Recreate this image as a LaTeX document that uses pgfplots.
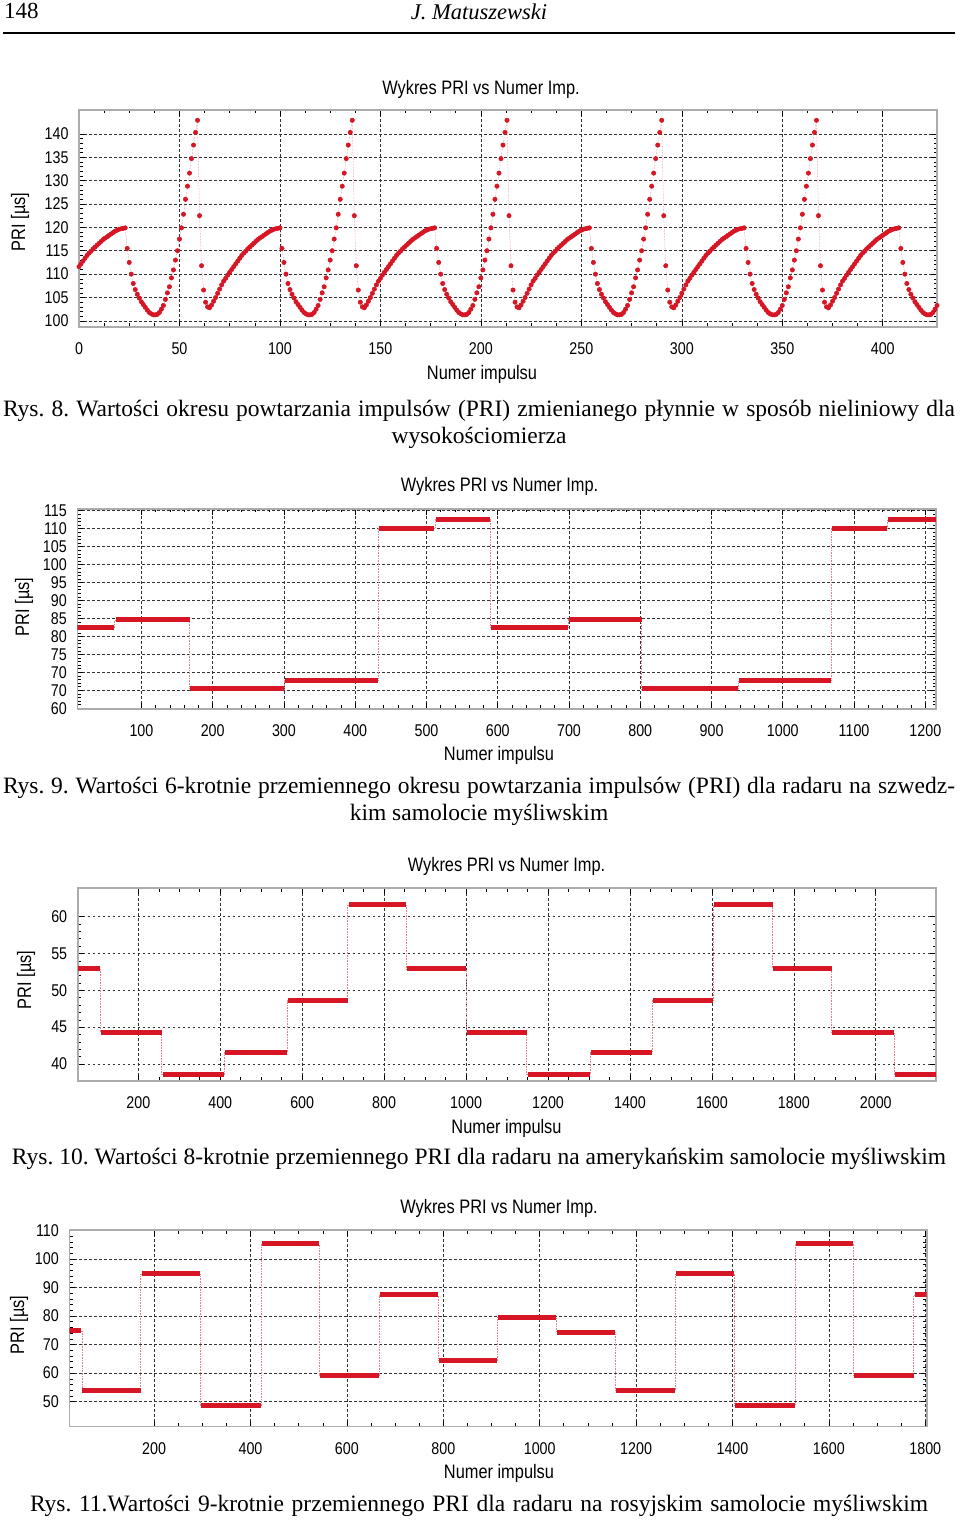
\documentclass[border=0pt]{standalone}
\usepackage{fontspec}
\setmainfont{Liberation Serif}
\newfontfamily\chartfont{Liberation Sans}[FakeStretch=0.84]
\usepackage{pgfplots}
\pgfplotsset{compat=1.18}
\definecolor{plotred}{RGB}{214,22,36}
\pgfplotsset{prichart/.style={
  scale only axis,
  anchor=south west,
  grid=major,
  major grid style={black!80, line width=0.6pt, dash pattern=on 2.5pt off 2.5pt},
  axis line style={gray!65, line width=1.6pt},
  tick style={black, line width=0.6pt},
  major tick length=6pt, minor tick length=3.5pt,
  tick label style={font=\chartfont\fontsize{17}{17}\selectfont},
  xticklabel style={yshift=-12pt},
  yticklabel style={xshift=-7pt},
  /pgf/number format/assume math mode=true,
  /pgf/number format/1000 sep={},
  scaled ticks=false,
}}
\pgfplotsset{steps/.style={plotred!55, densely dotted, line width=0.6pt, const plot mark left, forget plot},
             bars/.style={plotred, line width=5pt, unbounded coords=jump, forget plot}}
\newcommand{\cfont}{\chartfont\fontsize{19.5}{22}\selectfont}
\newcommand{\capfont}{\fontsize{23.5}{28}\selectfont\frenchspacing}
\begin{document}
\begin{tikzpicture}
\path[use as bounding box] (0,0) rectangle (960pt,1523pt);
% header
\node[anchor=base west, inner sep=0, font=\fontsize{23}{26}\selectfont] at (4pt,1504pt) {148};
\node[anchor=base, inner sep=0, font=\fontsize{22.5}{26}\selectfont\itshape] at (479pt,1503pt) {J. Matuszewski};
\draw[line width=2pt] (3pt,1490pt) -- (955pt,1490pt);

% ---------------- Chart 1 ----------------
\begin{axis}[prichart, at={(79pt,1196pt)}, width=858pt, height=217pt,
  xmin=0, xmax=427, ymin=98.7, ymax=145.1,
  xtick={0,50,...,400}, ytick={100,105,...,140},
  minor x tick num=3, minor y tick num=4]
\addplot[plotred!60, densely dotted, line width=0.5pt, mark=*, mark size=2.2pt,
  mark options={solid, draw=plotred, fill=plotred}] coordinates {
(0,111.6)(1,112.2)(2,112.8)(3,113.4)(4,114.0)(5,114.5)(6,114.9)(7,115.4)(8,115.8)(9,116.2)(10,116.6)(11,117.0)(12,117.4)(13,117.7)(14,118.0)(15,118.3)(16,118.6)(17,118.9)(18,119.2)(19,119.4)(20,119.6)(21,119.7)(22,119.8)(23,119.9)(24,115.5)(25,112.5)(26,110.0)(27,108.0)(28,106.7)(29,105.7)(30,104.9)(31,104.1)(32,103.5)(33,102.9)(34,102.3)(35,101.8)(36,101.5)(37,101.3)(38,101.3)(39,101.4)(40,101.8)(41,102.5)(42,103.3)(43,104.6)(44,106.0)(45,107.3)(46,109.2)(47,110.9)(48,113.0)(49,115.0)(50,117.5)(51,119.9)(52,122.8)(53,126.0)(54,128.8)(55,131.6)(56,134.7)(57,137.6)(58,140.3)(59,142.9)(60,122.5)(61,111.8)(62,106.6)(63,104.0)(64,103.0)(65,102.8)(66,103.4)(67,104.2)(68,105.0)(69,105.9)(70,106.8)(71,107.7)(72,108.5)(73,109.1)(74,109.8)(75,110.4)(76,111.0)
(77,111.6)(78,112.2)(79,112.8)(80,113.4)(81,114.0)(82,114.5)(83,114.9)(84,115.4)(85,115.8)(86,116.2)(87,116.6)(88,117.0)(89,117.4)(90,117.7)(91,118.0)(92,118.3)(93,118.6)(94,118.9)(95,119.2)(96,119.4)(97,119.6)(98,119.7)(99,119.8)(100,119.9)(101,115.5)(102,112.5)(103,110.0)(104,108.0)(105,106.7)(106,105.7)(107,104.9)(108,104.1)(109,103.5)(110,102.9)(111,102.3)(112,101.8)(113,101.5)(114,101.3)(115,101.3)(116,101.4)(117,101.8)(118,102.5)(119,103.3)(120,104.6)(121,106.0)(122,107.3)(123,109.2)(124,110.9)(125,113.0)(126,115.0)(127,117.5)(128,119.9)(129,122.8)(130,126.0)(131,128.8)(132,131.6)(133,134.7)(134,137.6)(135,140.3)(136,142.9)(137,122.5)(138,111.8)(139,106.6)(140,104.0)(141,103.0)(142,102.8)(143,103.4)(144,104.2)(145,105.0)(146,105.9)(147,106.8)(148,107.7)(149,108.5)(150,109.1)(151,109.8)(152,110.4)(153,111.0)
(154,111.6)(155,112.2)(156,112.8)(157,113.4)(158,114.0)(159,114.5)(160,114.9)(161,115.4)(162,115.8)(163,116.2)(164,116.6)(165,117.0)(166,117.4)(167,117.7)(168,118.0)(169,118.3)(170,118.6)(171,118.9)(172,119.2)(173,119.4)(174,119.6)(175,119.7)(176,119.8)(177,119.9)(178,115.5)(179,112.5)(180,110.0)(181,108.0)(182,106.7)(183,105.7)(184,104.9)(185,104.1)(186,103.5)(187,102.9)(188,102.3)(189,101.8)(190,101.5)(191,101.3)(192,101.3)(193,101.4)(194,101.8)(195,102.5)(196,103.3)(197,104.6)(198,106.0)(199,107.3)(200,109.2)(201,110.9)(202,113.0)(203,115.0)(204,117.5)(205,119.9)(206,122.8)(207,126.0)(208,128.8)(209,131.6)(210,134.7)(211,137.6)(212,140.3)(213,142.9)(214,122.5)(215,111.8)(216,106.6)(217,104.0)(218,103.0)(219,102.8)(220,103.4)(221,104.2)(222,105.0)(223,105.9)(224,106.8)(225,107.7)(226,108.5)(227,109.1)(228,109.8)(229,110.4)(230,111.0)
(231,111.6)(232,112.2)(233,112.8)(234,113.4)(235,114.0)(236,114.5)(237,114.9)(238,115.4)(239,115.8)(240,116.2)(241,116.6)(242,117.0)(243,117.4)(244,117.7)(245,118.0)(246,118.3)(247,118.6)(248,118.9)(249,119.2)(250,119.4)(251,119.6)(252,119.7)(253,119.8)(254,119.9)(255,115.5)(256,112.5)(257,110.0)(258,108.0)(259,106.7)(260,105.7)(261,104.9)(262,104.1)(263,103.5)(264,102.9)(265,102.3)(266,101.8)(267,101.5)(268,101.3)(269,101.3)(270,101.4)(271,101.8)(272,102.5)(273,103.3)(274,104.6)(275,106.0)(276,107.3)(277,109.2)(278,110.9)(279,113.0)(280,115.0)(281,117.5)(282,119.9)(283,122.8)(284,126.0)(285,128.8)(286,131.6)(287,134.7)(288,137.6)(289,140.3)(290,142.9)(291,122.5)(292,111.8)(293,106.6)(294,104.0)(295,103.0)(296,102.8)(297,103.4)(298,104.2)(299,105.0)(300,105.9)(301,106.8)(302,107.7)(303,108.5)(304,109.1)(305,109.8)(306,110.4)(307,111.0)
(308,111.6)(309,112.2)(310,112.8)(311,113.4)(312,114.0)(313,114.5)(314,114.9)(315,115.4)(316,115.8)(317,116.2)(318,116.6)(319,117.0)(320,117.4)(321,117.7)(322,118.0)(323,118.3)(324,118.6)(325,118.9)(326,119.2)(327,119.4)(328,119.6)(329,119.7)(330,119.8)(331,119.9)(332,115.5)(333,112.5)(334,110.0)(335,108.0)(336,106.7)(337,105.7)(338,104.9)(339,104.1)(340,103.5)(341,102.9)(342,102.3)(343,101.8)(344,101.5)(345,101.3)(346,101.3)(347,101.4)(348,101.8)(349,102.5)(350,103.3)(351,104.6)(352,106.0)(353,107.3)(354,109.2)(355,110.9)(356,113.0)(357,115.0)(358,117.5)(359,119.9)(360,122.8)(361,126.0)(362,128.8)(363,131.6)(364,134.7)(365,137.6)(366,140.3)(367,142.9)(368,122.5)(369,111.8)(370,106.6)(371,104.0)(372,103.0)(373,102.8)(374,103.4)(375,104.2)(376,105.0)(377,105.9)(378,106.8)(379,107.7)(380,108.5)(381,109.1)(382,109.8)(383,110.4)(384,111.0)
(385,111.6)(386,112.2)(387,112.8)(388,113.4)(389,114.0)(390,114.5)(391,114.9)(392,115.4)(393,115.8)(394,116.2)(395,116.6)(396,117.0)(397,117.4)(398,117.7)(399,118.0)(400,118.3)(401,118.6)(402,118.9)(403,119.2)(404,119.4)(405,119.6)(406,119.7)(407,119.8)(408,119.9)(409,115.5)(410,112.5)(411,110.0)(412,108.0)(413,106.7)(414,105.7)(415,104.9)(416,104.1)(417,103.5)(418,102.9)(419,102.3)(420,101.8)(421,101.5)(422,101.3)(423,101.3)(424,101.4)(425,101.8)(426,102.5)(427,103.3)
};
\end{axis}
\node[font=\cfont] at (481pt,1434pt) {Wykres PRI vs Numer Imp.};
\node[font=\cfont] at (482pt,1149pt) {Numer impulsu};
\node[font=\cfont, rotate=90] at (20pt,1301pt) {PRI [µs]};
\node[anchor=base, inner sep=0, font=\capfont] at (479pt,1106pt) {\makebox[952pt][s]{Rys. 8. Wartości okresu powtarzania impulsów (PRI) zmienianego płynnie w sposób nieliniowy dla}};
\node[anchor=base, inner sep=0, font=\capfont] at (479pt,1079pt) {wysokościomierza};

% ---------------- Chart 2 ----------------
\begin{axis}[prichart, at={(77.3pt,814pt)}, width=858.7pt, height=200pt,
  xmin=10, xmax=1215, ymin=59.8, ymax=115.5,
  xtick={100,200,...,1200}, ytick={60,65,...,115},
  yticklabels={60,70,70,75,80,85,90,95,100,105,110,115},
  minor x tick num=4, minor y tick num=4]
\addplot[steps] coordinates {(10,82.6)(62.5,84.6)(167.8,65.4)(301,67.7)(432,110.2)(511.7,112.5)(589,82.6)(698.6,84.7)(802,65.4)(938,67.7)(1068,110.2)(1147,112.5)(1215,112.5)};
\addplot[bars] coordinates {(10,82.6)(62,82.6)(62,nan)(64,84.6)(167.8,84.6)(167.8,nan)(168,65.4)(300,65.4)(300,nan)(302,67.7)(432,67.7)(432,nan)(433,110.2)(511,110.2)(511,nan)(513,112.5)(589,112.5)(589,nan)(590,82.6)(698,82.6)(698,nan)(700,84.7)(802,84.7)(802,nan)(803,65.4)(937,65.4)(937,nan)(939,67.7)(1068,67.7)(1068,nan)(1069,110.2)(1146,110.2)(1146,nan)(1148,112.5)(1215,112.5)};
\end{axis}
\node[font=\cfont] at (499.5pt,1037pt) {Wykres PRI vs Numer Imp.};
\node[font=\cfont] at (499pt,768pt) {Numer impulsu};
\node[font=\cfont, rotate=90] at (24pt,916pt) {PRI [µs]};
\node[anchor=base, inner sep=0, font=\capfont] at (479pt,729pt) {\makebox[952pt][s]{Rys. 9. Wartości 6-krotnie przemiennego okresu powtarzania impulsów (PRI) dla radaru na szwedz-}};
\node[anchor=base, inner sep=0, font=\capfont] at (479pt,702pt) {kim samolocie myśliwskim};

% ---------------- Chart 3 ----------------
\begin{axis}[prichart, at={(77.7pt,442pt)}, width=858.3pt, height=192.7pt,
  xmin=52, xmax=2147, ymin=37.7, ymax=63.85,
  xtick={200,400,...,2000}, ytick={40,45,...,60},
  minor x tick num=3, minor y tick num=4]
\addplot[steps] coordinates {(52,52.9)(106.5,44.3)(257,38.6)(409,41.6)(564,48.6)(711,61.6)(853,52.9)(1000,44.3)(1148,38.6)(1302,41.6)(1454,48.6)(1603,61.6)(1748,52.9)(1892,44.3)(2045,38.6)(2147,38.6)};
\addplot[bars] coordinates {(52,52.9)(106,52.9)(106,nan)(108,44.3)(257,44.3)(257,nan)(259,38.6)(409,38.6)(409,nan)(411,41.6)(564,41.6)(564,nan)(566,48.6)(711,48.6)(711,nan)(713,61.6)(853,61.6)(853,nan)(855,52.9)(1000,52.9)(1000,nan)(1002,44.3)(1148,44.3)(1148,nan)(1150,38.6)(1302,38.6)(1302,nan)(1304,41.6)(1454,41.6)(1454,nan)(1456,48.6)(1603,48.6)(1603,nan)(1605,61.6)(1748,61.6)(1748,nan)(1750,52.9)(1892,52.9)(1892,nan)(1894,44.3)(2045,44.3)(2045,nan)(2047,38.6)(2147,38.6)};
\end{axis}
\node[font=\cfont] at (506.5pt,657pt) {Wykres PRI vs Numer Imp.};
\node[font=\cfont] at (506.5pt,395pt) {Numer impulsu};
\node[font=\cfont, rotate=90] at (26pt,543pt) {PRI [µs]};
\node[anchor=base, inner sep=0, font=\capfont] at (479pt,358pt) {\makebox[934pt][s]{Rys. 10. Wartości 8-krotnie przemiennego PRI dla radaru na amerykańskim samolocie myśliwskim}};

% ---------------- Chart 4 ----------------
\begin{axis}[prichart, at={(69.3pt,96.3pt)}, width=857.4pt, height=196.7pt,
  xmin=24, xmax=1803, ymin=41.2, ymax=110.2,
  xtick={200,400,...,1800}, ytick={50,60,...,110},
  minor x tick num=3, minor y tick num=4]
\addplot[steps] coordinates {(24,74.8)(50,53.9)(172,94.8)(295,48.6)(422,105.3)(542,59.1)(667,87.4)(789,64.4)(911,79.6)(1034,74.4)(1157,53.9)(1281,94.8)(1403,48.8)(1530,105.3)(1650,59.1)(1776,87.4)(1803,87.4)};
\addplot[bars] coordinates {(24,74.8)(49,74.8)(49,nan)(51,53.9)(172,53.9)(172,nan)(174,94.8)(295,94.8)(295,nan)(297,48.6)(422,48.6)(422,nan)(424,105.3)(542,105.3)(542,nan)(544,59.1)(667,59.1)(667,nan)(669,87.4)(789,87.4)(789,nan)(791,64.4)(911,64.4)(911,nan)(913,79.6)(1034,79.6)(1034,nan)(1036,74.4)(1157,74.4)(1157,nan)(1159,53.9)(1281,53.9)(1281,nan)(1283,94.8)(1403,94.8)(1403,nan)(1405,48.8)(1530,48.8)(1530,nan)(1532,105.3)(1650,105.3)(1650,nan)(1652,59.1)(1776,59.1)(1776,nan)(1778,87.4)(1803,87.4)};
\end{axis}
\node[font=\cfont] at (499pt,315pt) {Wykres PRI vs Numer Imp.};
\node[font=\cfont] at (499pt,50pt) {Numer impulsu};
\node[font=\cfont, rotate=90] at (19pt,198pt) {PRI [µs]};
\node[anchor=base, inner sep=0, font=\capfont] at (479pt,12pt) {\makebox[898pt][s]{Rys. 11.Wartości 9-krotnie przemiennego PRI dla radaru na rosyjskim samolocie myśliwskim}};
\end{tikzpicture}
\end{document}
